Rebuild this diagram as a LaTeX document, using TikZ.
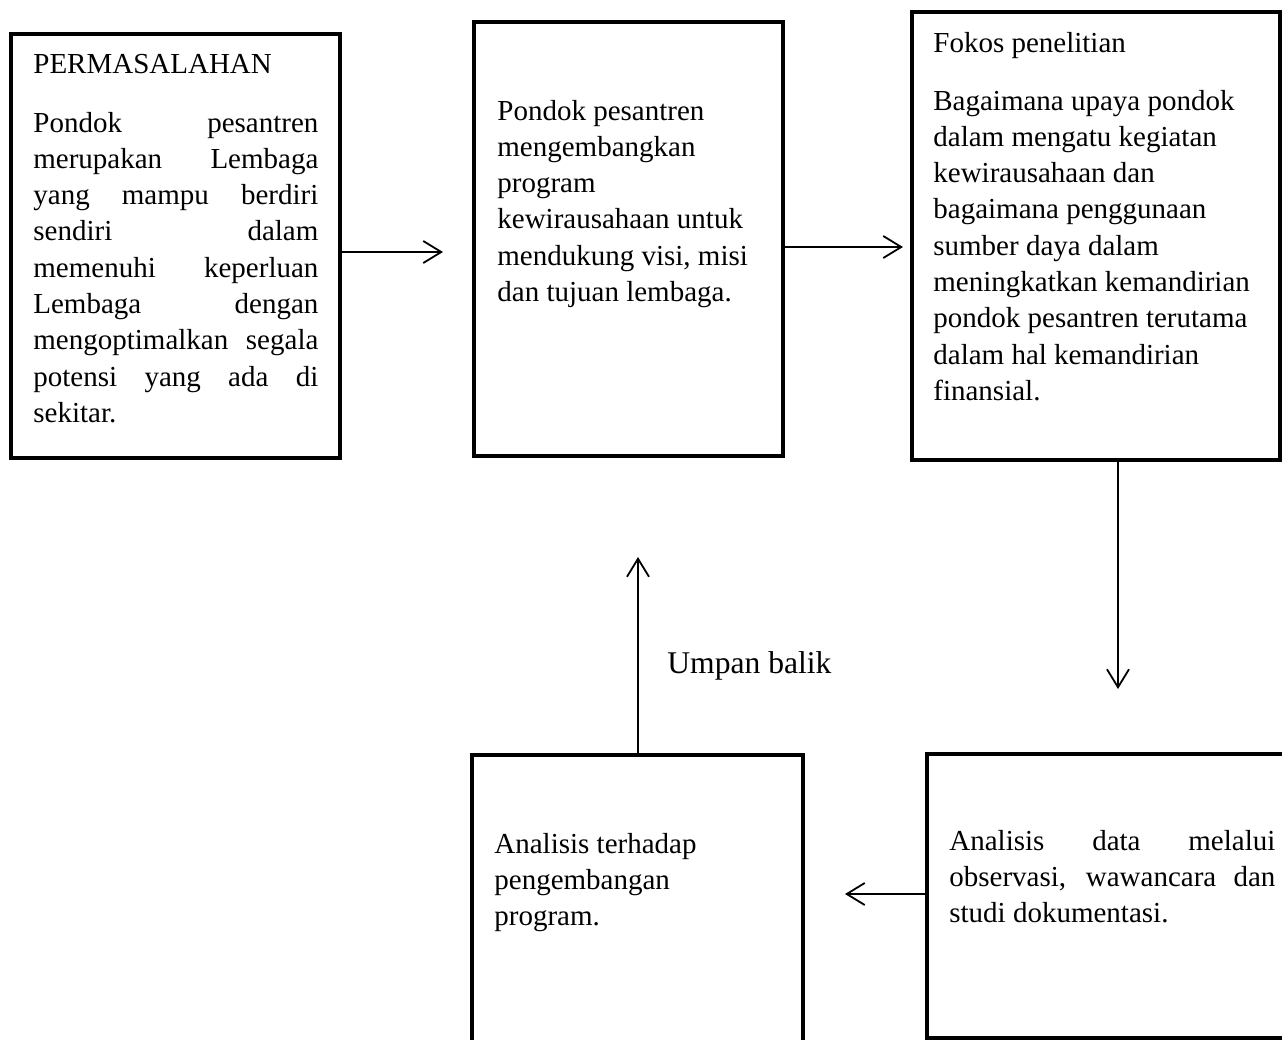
\documentclass[tikz,border=0pt]{standalone}
\usepackage{fontspec}
\setmainfont{Liberation Serif}
\usetikzlibrary{arrows.meta,fit}
\newcommand{\txtsize}{\fontsize{14.5pt}{18.15pt}\selectfont}
\newcommand{\lblsize}{\fontsize{15.8pt}{19pt}\selectfont}
\newcommand{\jline}[1]{\makebox[\linewidth][s]{#1}}
\begin{document}
\begin{tikzpicture}[x=0.5pt,y=-0.5pt,
  box/.style={draw=black, line width=2pt, inner sep=0pt},
  conn/.style={draw=black, line width=0.9pt, -{Straight Barb[length=9pt,width=11pt]}},
  txt/.style={anchor=base west, inner sep=0pt, font=\txtsize}]
\useasboundingbox (0,0) rectangle (1282,1040);
\clip (0,0) rectangle (1282,1040);
% boxes
\node[box, fit={(11,34)(340,458)}] (b1) {};
\node[box, fit={(474,22)(783,456)}] (b2) {};
\node[box, fit={(912,12)(1280,460)}] (b3) {};
\node[box, fit={(472,755)(803,1070)}] (b4) {};
\node[box, fit={(927,754)(1310,1038)}] (b5) {};
% texts
\node[txt] (t1a) at (33,73) {PERMASALAHAN};
\node[txt] (t1b) at (33,132) {\parbox[t]{142.5pt}{\txtsize
\jline{Pondok pesantren}\\
\jline{merupakan Lembaga}\\
\jline{yang mampu berdiri}\\
\jline{sendiri dalam}\\
\jline{memenuhi keperluan}\\
\jline{Lembaga dengan}\\
\jline{mengoptimalkan segala}\\
\jline{potensi yang ada di}\\
sekitar.}};
\node[txt] (t2) at (497,120) {\parbox[t]{170pt}{\txtsize
Pondok pesantren\\
mengembangkan\\
program\\
kewirausahaan untuk\\
mendukung visi, misi\\
dan tujuan lembaga.}};
\node[txt] (t3a) at (933,52) {Fokos penelitian};
\node[txt] (t3b) at (933,110) {\parbox[t]{172pt}{\txtsize
Bagaimana upaya pondok\\
dalam mengatu kegiatan\\
kewirausahaan dan\\
bagaimana penggunaan\\
sumber daya dalam\\
meningkatkan kemandirian\\
pondok pesantren terutama\\
dalam hal kemandirian\\
finansial.}};
\node[txt] (t4) at (494,853) {\parbox[t]{150pt}{\txtsize
Analisis terhadap\\
pengembangan\\
program.}};
\node[txt] (t5) at (949,850) {\parbox[t]{163pt}{\txtsize
\jline{Analisis data melalui}\\
\jline{observasi, wawancara dan}\\
studi dokumentasi.}};
\node[txt, font=\lblsize] (lbl) at (667,673) {Umpan balik};
% connectors
\coordinate (a1) at (443,252);
\coordinate (a2) at (903,247);
\coordinate (a3) at (1118,689);
\coordinate (a4) at (845,894);
\coordinate (a5) at (638,557);
\draw[conn] (b1.east |- a1) -- (a1);
\draw[conn] (b2.east |- a2) -- (a2);
\draw[conn] (b3.south -| a3) -- (a3);
\draw[conn] (b5.west |- a4) -- (a4);
\draw[conn] (b4.north -| a5) -- (a5);
\end{tikzpicture}
\end{document}
